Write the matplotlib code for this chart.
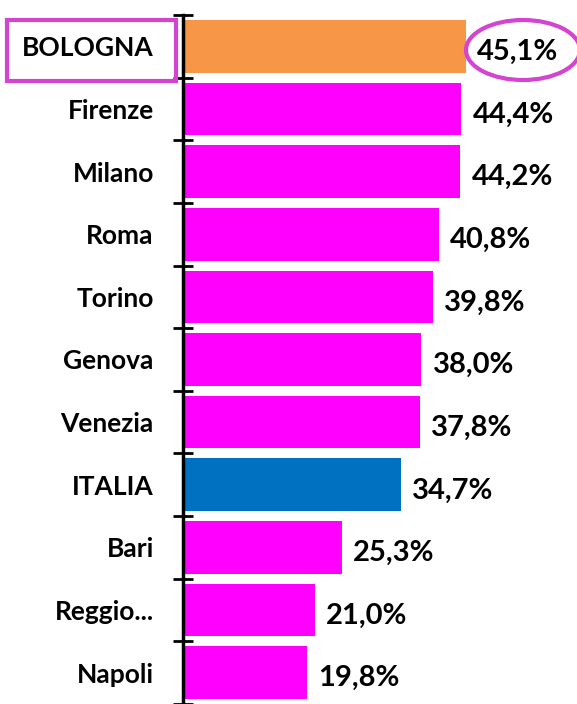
import matplotlib
matplotlib.use("Agg")
import matplotlib.pyplot as plt
from matplotlib.patches import Rectangle, Ellipse

categories = ["BOLOGNA", "Firenze", "Milano", "Roma", "Torino", "Genova",
              "Venezia", "ITALIA", "Bari", "Reggio...", "Napoli"]
values = [45.1, 44.4, 44.2, 40.8, 39.8, 38.0, 37.8, 34.7, 25.3, 21.0, 19.8]
value_labels = ["45,1%", "44,4%", "44,2%", "40,8%", "39,8%", "38,0%",
                "37,8%", "34,7%", "25,3%", "21,0%", "19,8%"]
colors = ["#F79646", "#FF00FF", "#FF00FF", "#FF00FF", "#FF00FF", "#FF00FF",
          "#FF00FF", "#0070C0", "#FF00FF", "#FF00FF", "#FF00FF"]

W, H = 577, 704
fig = plt.figure(figsize=(W / 100, H / 100), dpi=100)
font = ["Lato", "DejaVu Sans"]

left_px, top_px, bottom_px = 183, 15, 704
ax = fig.add_axes([left_px / W, 1 - bottom_px / H, 1 - left_px / W, (bottom_px - top_px) / H])

y = list(range(len(categories)))
ax.barh(y, values, height=0.84, color=colors, zorder=2)
ax.set_ylim(len(categories) - 0.5, -0.5)
ax.set_xlim(0, (W - left_px) / 6.27)

for yi, v, lab in zip(y, values, value_labels):
    ax.text(v + 1.8, yi + 0.09, lab, va="center", ha="left", fontsize=21,
            fontweight="bold", family=font, color="black")

ax.set_yticks(y)
ax.set_yticklabels(categories, fontsize=19, fontweight="bold", family=font, color="black")
ax.tick_params(axis="y", which="major", length=0, pad=21)
ax.set_yticks([i - 0.5 for i in range(len(categories) + 1)], minor=True)
ax.tick_params(axis="y", which="minor", length=14, width=2, direction="inout", color="black")
ax.set_xticks([])
for s in ["top", "right", "bottom"]:
    ax.spines[s].set_visible(False)
ax.spines["left"].set_linewidth(2.5)
ax.spines["left"].set_zorder(3)

hl = "#D444D1"
fig.patches.append(Rectangle((7 / W, 1 - 81 / H), (176 - 7) / W, (81 - 20) / H,
                             transform=fig.transFigure, fill=False, edgecolor=hl, linewidth=3))
fig.patches.append(Ellipse((523 / W, 1 - 50 / H), 114 / W, 60 / H,
                           transform=fig.transFigure, fill=False, edgecolor=hl, linewidth=3))

fig.savefig("out.png", dpi=100)
